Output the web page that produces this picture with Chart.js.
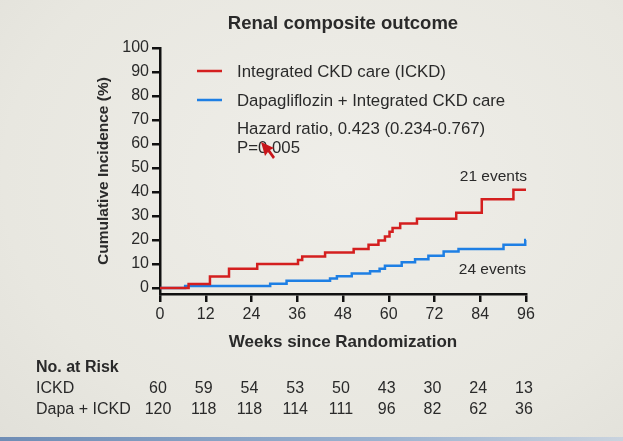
<!DOCTYPE html>
<html>
<head>
<meta charset="utf-8">
<script src="https://cdn.jsdelivr.net/npm/chart.js@4.4.1/dist/chart.umd.min.js"></script>
<style>
  html, body { margin: 0; padding: 0; }
  body {
    width: 623px; height: 441px; overflow: hidden; position: relative;
    background: radial-gradient(ellipse at 55% 40%, #efeee9 0%, #e8e7e0 70%, #e1e0d9 100%);
  }
  #wrap { position: absolute; left: 0; top: 0; width: 623px; height: 441px; }
  #strip { position: absolute; left: 0; bottom: 0; width: 623px; height: 4px;
    background: linear-gradient(90deg, #6f8db5, #9bb2cf 60%, #c9d3de); }
</style>
</head>
<body>
<div id="wrap"><canvas id="km" width="623" height="441"></canvas></div>
<div id="strip"></div>
<script>
// cumulative incidence (%), step at given week
const ickdWeeks = [0, 7.5, 13.1, 18.1, 25.5, 36.2, 37.3, 43.3, 50.8, 54.7, 57.3, 59, 60.2, 61, 63, 67.4, 77.7, 84.4, 92.7, 96];
const ickdPct   = [0, 1.7, 4.8, 8.0, 10.0, 11.7, 13.1, 14.8, 16.2, 18.0, 19.8, 21.5, 23.4, 25.0, 26.9, 28.9, 31.4, 37.0, 40.9, 40.9];
const dapaWeeks = [0, 6.6, 28.9, 33.2, 44.6, 46.4, 50.3, 55.1, 57.6, 59, 63.4, 66.9, 70.4, 74.4, 78.3, 90.1, 95.8, 96];
const dapaPct   = [0, 0.8, 1.8, 3.0, 4.0, 4.9, 6.0, 7.0, 8.0, 9.3, 10.7, 12.0, 13.4, 15.2, 16.2, 18.0, 20.0, 20.0];

const xTicks = [0, 12, 24, 36, 48, 60, 72, 84, 96];
const yTicks = [0, 10, 20, 30, 40, 50, 60, 70, 80, 90, 100];

// number at risk
const riskWeeks = [0, 12, 24, 36, 48, 60, 72, 84, 96];
const riskIckd  = [60, 59, 54, 53, 50, 43, 30, 24, 13];
const riskDapa  = [120, 118, 118, 114, 111, 96, 82, 62, 36];

const RED = "#d41f1f";
const BLUE = "#1e7fe4";
const INK = "#2a2a2a";
const FONT = "'Liberation Sans', Arial, sans-serif";

function zip(xs, ys) {
  return xs.map(function (x, i) { return { x: x, y: ys[i] }; });
}

// extra text: title, legend, HR, events, risk table
const annotate = {
  id: "annotate",
  afterDraw: function (chart) {
    const ctx = chart.ctx;
    const area = chart.chartArea;
    const x = chart.scales.x;
    ctx.save();
    ctx.fillStyle = INK;
    ctx.textBaseline = "middle";

    ctx.font = "bold 18.5px " + FONT;
    ctx.textAlign = "center";
    ctx.fillText("Renal composite outcome", (area.left + area.right) / 2, 24);

    // legend
    ctx.lineWidth = 2.5;
    ctx.strokeStyle = RED;
    ctx.beginPath(); ctx.moveTo(197, 71); ctx.lineTo(222, 71); ctx.stroke();
    ctx.strokeStyle = BLUE;
    ctx.beginPath(); ctx.moveTo(197, 100); ctx.lineTo(222, 100); ctx.stroke();
    ctx.font = "16.8px " + FONT;
    ctx.textAlign = "left";
    ctx.fillText("Integrated CKD care (ICKD)", 237, 72);
    ctx.fillText("Dapagliflozin + Integrated CKD care", 237, 101);
    ctx.fillText("Hazard ratio, 0.423 (0.234-0.767)", 237, 129);
    ctx.fillText("P=0.005", 237, 148);

    // pointer arrow on the slide
    ctx.fillStyle = "#c8161b";
    ctx.beginPath();
    ctx.moveTo(261, 142);
    ctx.lineTo(265, 156);
    ctx.lineTo(268, 152);
    ctx.lineTo(273, 159);
    ctx.lineTo(275, 157);
    ctx.lineTo(270, 150);
    ctx.lineTo(274, 148);
    ctx.closePath();
    ctx.fill();
    ctx.fillStyle = INK;

    ctx.textAlign = "right";
    ctx.font = "15.5px " + FONT;
    ctx.fillText("21 events", 527, 177);
    ctx.fillText("24 events", 526, 270);

    // number at risk table
    ctx.textAlign = "left";
    ctx.font = "bold 16px " + FONT;
    ctx.fillText("No. at Risk", 36, 368);
    ctx.font = "16px " + FONT;
    ctx.fillText("ICKD", 36, 389);
    ctx.fillText("Dapa + ICKD", 36, 410);
    ctx.textAlign = "center";
    riskWeeks.forEach(function (w, i) {
      const px = x.getPixelForValue(w) - 2;
      ctx.fillText(String(riskIckd[i]), px, 389);
      ctx.fillText(String(riskDapa[i]), px, 410);
    });
    ctx.restore();
  }
};

new Chart(document.getElementById("km"), {
  type: "line",
  data: {
    datasets: [
      {
        label: "Integrated CKD care (ICKD)",
        data: zip(ickdWeeks, ickdPct),
        borderColor: RED,
        borderWidth: 2.5,
        stepped: "before",
        pointRadius: 0,
        fill: false
      },
      {
        label: "Dapagliflozin + Integrated CKD care",
        data: zip(dapaWeeks, dapaPct),
        borderColor: BLUE,
        borderWidth: 2.5,
        stepped: "before",
        pointRadius: 0,
        fill: false
      }
    ]
  },
  options: {
    responsive: false,
    animation: false,
    clip: false,
    layout: { padding: { left: 90, right: 97, top: 48, bottom: 87 } },
    plugins: {
      legend: { display: false },
      title: { display: false },
      tooltip: { enabled: false }
    },
    scales: {
      x: {
        type: "linear",
        min: 0,
        max: 96,
        afterBuildTicks: function (s) { s.ticks = xTicks.map(function (v) { return { value: v }; }); },
        afterFit: function (s) { s.height = 60; },
        grid: { drawOnChartArea: false, tickLength: 8, color: "#111", lineWidth: 2.5 },
        border: { color: "#111", width: 2.5 },
        ticks: { color: INK, font: { family: FONT, size: 16 }, padding: 3, maxRotation: 0 },
        title: {
          display: true,
          text: "Weeks since Randomization",
          color: INK,
          padding: { top: 4, bottom: 1 },
          font: { family: FONT, size: 17, weight: "bold" }
        }
      },
      y: {
        min: -2.5,
        max: 100,
        afterBuildTicks: function (s) { s.ticks = yTicks.map(function (v) { return { value: v }; }); },
        afterFit: function (s) { s.width = 70; },
        grid: { drawOnChartArea: false, tickLength: 8, color: "#111", lineWidth: 2.5 },
        border: { color: "#111", width: 2.5 },
        ticks: { color: INK, font: { family: FONT, size: 16 }, padding: 3 },
        title: {
          display: true,
          text: "Cumulative Incidence (%)",
          color: INK,
          font: { family: FONT, size: 15.5, weight: "bold" }
        }
      }
    }
  },
  plugins: [annotate]
});
</script>
</body>
</html>
